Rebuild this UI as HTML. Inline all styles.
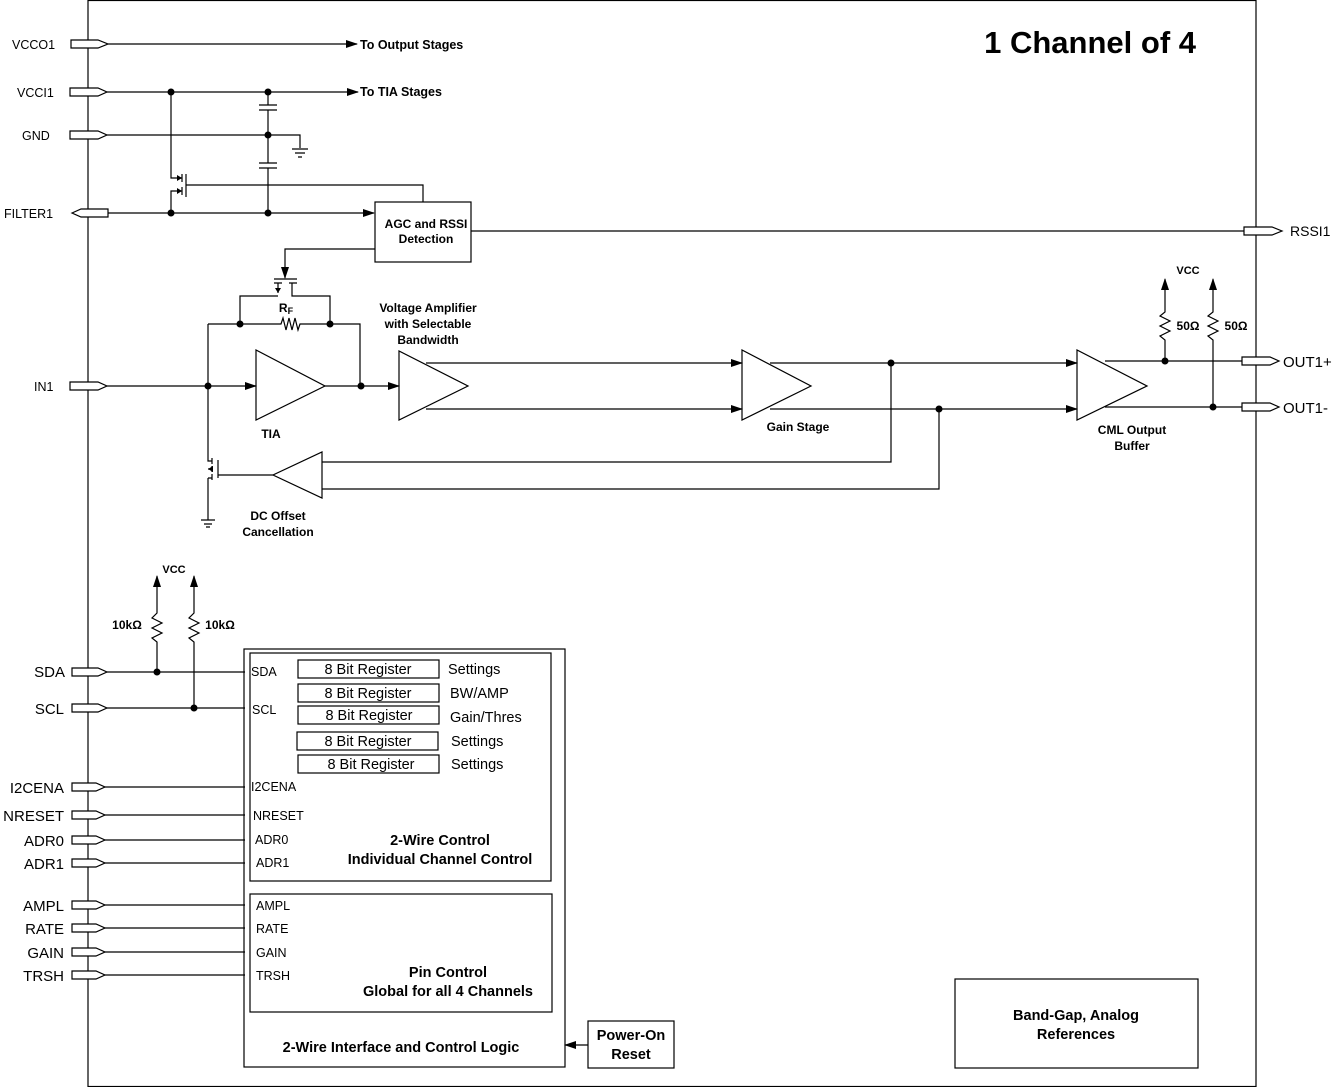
<!DOCTYPE html>
<html><head><meta charset="utf-8"><style>
body{margin:0;background:#fff}
svg{display:block;font-family:"Liberation Sans",sans-serif}
.b{font-weight:bold}
</style></head><body>
<svg width="1337" height="1087" viewBox="0 0 1337 1087" xmlns="http://www.w3.org/2000/svg">
<defs>
<marker id="a" markerWidth="12" markerHeight="8" refX="11" refY="4" orient="auto" markerUnits="userSpaceOnUse"><path d="M0,0L12,4L0,8z" fill="#000"/></marker>
</defs>
<g stroke="#000" stroke-width="1.2" fill="none">
<rect x="88" y="0.5" width="1168" height="1086"/>
<g fill="#fff">
<path d="M71,40H98L108,44L98,48H71Z"/>
<path d="M70,88H98L107,92L98,96H70Z"/>
<path d="M70,131H98L107,135L98,139H70Z"/>
<path d="M72,213L81,209H108V217H81Z"/>
<path d="M70,382H98L107,386L98,390H70Z"/>
<path d="M1244,227H1272L1282,231L1272,235H1244Z"/>
<path d="M1242,357H1270L1279,361L1270,365H1242Z"/>
<path d="M1242,403H1270L1279,407L1270,411H1242Z"/>
<path d="M72,668H98L107,672L98,676H72Z"/>
<path d="M72,704H98L107,708L98,712H72Z"/>
<path d="M72,783H96L105,787L96,791H72Z"/>
<path d="M72,811H96L105,815L96,819H72Z"/>
<path d="M72,836H96L105,840L96,844H72Z"/>
<path d="M72,859H96L105,863L96,867H72Z"/>
<path d="M72,901H96L105,905L96,909H72Z"/>
<path d="M72,924H96L105,928L96,932H72Z"/>
<path d="M72,948H96L105,952L96,956H72Z"/>
<path d="M72,971H96L105,975L96,979H72Z"/>
</g>
<path d="M108,44H357" marker-end="url(#a)"/>
<path d="M107,92H358" marker-end="url(#a)"/>
<path d="M107,135H300V148M292,149H308M295,153H305M298,157H302"/>
<path d="M268,92V105M259,105H277M259,110H277M268,110V163M259,163H277M259,168H277M268,168V213"/>
<path d="M108,213H374" marker-end="url(#a)"/>
<path d="M171,92V178H182M171,213V191H182M182,174V182M182,187V195M186,174V197M186,185H423V202"/>
<rect x="375" y="202" width="96" height="60"/>
<path d="M471,231H1244"/>
<path d="M375,249H285V278" marker-end="url(#a)"/>
<path d="M274,279H297M274,283H282M289,283H297M278,283V293M292,283V296H330V324M278,296H240V324"/>
<path d="M208,324H281L283,318L286,330L289,318L292,330L295,318L298,330L300,324H360V386"/>
<path d="M107,386H256" marker-end="url(#a)"/>
<path d="M256,350V420L325,386Z"/>
<path d="M325,386H399" marker-end="url(#a)"/>
<path d="M399,351V420L468,386Z"/>
<path d="M426,363H742" marker-end="url(#a)"/>
<path d="M426,409H742" marker-end="url(#a)"/>
<path d="M742,350V420L811,386Z"/>
<path d="M770,363H1077" marker-end="url(#a)"/>
<path d="M770,409H1077" marker-end="url(#a)"/>
<path d="M1077,350V420L1147,386Z"/>
<path d="M1105,361H1242M1105,407H1242"/>
<path d="M891,363V462H322M939,409V489H322"/>
<path d="M322,452V498L273,475Z"/>
<path d="M273,475H218M218,460V478M212,458V464M212,466V472M212,474V480M208,324V461H212M208,478H212M208,469H212M208,478V520M201,520H215M204,524H212M206,527H210"/>
<path d="M1165,361V340L1160,336L1170,331L1160,326L1170,321L1160,316L1165,312V279" marker-end="url(#a)"/>
<path d="M1213,407V340L1208,336L1218,331L1208,326L1218,321L1208,316L1213,312V279" marker-end="url(#a)"/>
<path d="M157,672V642L152,638L162,633L152,628L162,623L152,618L157,613V576" marker-end="url(#a)"/>
<path d="M194,708V642L189,638L199,633L189,628L199,623L189,618L194,613V576" marker-end="url(#a)"/>
<path d="M107,672H245M107,708H245M105,787H245M105,815H245M105,840H245M105,863H245M105,905H245M105,928H245M105,952H245M105,975H245"/>
<rect x="244" y="649" width="321" height="418"/>
<rect x="250" y="653" width="301" height="228"/>
<rect x="250" y="894" width="302" height="118"/>
<rect x="298" y="660" width="141" height="18"/>
<rect x="298" y="684" width="141" height="18"/>
<rect x="298" y="706" width="141" height="18"/>
<rect x="297" y="732" width="141" height="18"/>
<rect x="298" y="755" width="141" height="18"/>
<rect x="588" y="1021" width="86" height="47"/>
<path d="M588,1045H565" marker-end="url(#a)"/>
<rect x="955" y="979" width="243" height="89"/>
</g>
<g fill="#000">
<circle cx="171" cy="92" r="3.5"/><circle cx="268" cy="92" r="3.5"/><circle cx="268" cy="135" r="3.5"/>
<circle cx="171" cy="213" r="3.5"/><circle cx="268" cy="213" r="3.5"/>
<circle cx="240" cy="324" r="3.5"/><circle cx="330" cy="324" r="3.5"/>
<circle cx="208" cy="386" r="3.5"/><circle cx="361" cy="386" r="3.5"/>
<circle cx="891" cy="363" r="3.5"/><circle cx="939" cy="409" r="3.5"/>
<circle cx="1165" cy="361" r="3.5"/><circle cx="1213" cy="407" r="3.5"/>
<circle cx="157" cy="672" r="3.5"/><circle cx="194" cy="708" r="3.5"/>
<path d="M182,178L177,175V181Z M182,191L177,188V194Z M278,293L275,288H281Z M208,469L213,466V472Z"/>
</g>
<g font-size="12.5">
<text x="12" y="49">VCCO1</text>
<text x="17" y="97">VCCI1</text>
<text x="22" y="140">GND</text>
<text x="4" y="218">FILTER1</text>
<text x="34" y="391">IN1</text>
<text x="1290" y="236" font-size="14">RSSI1</text>
<text x="1283" y="367" font-size="15">OUT1+</text>
<text x="1283" y="413" font-size="15">OUT1-</text>
</g>
<g font-size="15" text-anchor="end">
<text x="65" y="677">SDA</text><text x="64" y="714">SCL</text>
<text x="64" y="793">I2CENA</text><text x="64" y="821">NRESET</text>
<text x="64" y="846">ADR0</text><text x="64" y="869">ADR1</text>
<text x="64" y="911">AMPL</text><text x="64" y="934">RATE</text>
<text x="64" y="958">GAIN</text><text x="64" y="981">TRSH</text>
</g>
<g font-size="12.5">
<text x="251" y="676">SDA</text><text x="252" y="714">SCL</text>
<text x="251" y="791">I2CENA</text><text x="253" y="820">NRESET</text>
<text x="255" y="844">ADR0</text><text x="256" y="867">ADR1</text>
<text x="256" y="910">AMPL</text><text x="256" y="933">RATE</text>
<text x="256" y="957">GAIN</text><text x="256" y="980">TRSH</text>
</g>
<g font-size="14.5">
<text x="368" y="674" text-anchor="middle">8 Bit Register</text>
<text x="368" y="698" text-anchor="middle">8 Bit Register</text>
<text x="369" y="720" text-anchor="middle">8 Bit Register</text>
<text x="368" y="746" text-anchor="middle">8 Bit Register</text>
<text x="371" y="769" text-anchor="middle">8 Bit Register</text>
<text x="448" y="674">Settings</text><text x="450" y="698">BW/AMP</text>
<text x="450" y="722">Gain/Thres</text><text x="451" y="746">Settings</text>
<text x="451" y="769">Settings</text>
</g>
<g class="b" font-size="12.5">
<text x="360" y="49">To Output Stages</text>
<text x="360" y="96">To TIA Stages</text>
</g>
<g class="b" font-size="12" text-anchor="middle">
<text x="426" y="228">AGC and RSSI</text><text x="426" y="243">Detection</text>
<text x="428" y="312">Voltage Amplifier</text><text x="428" y="328">with Selectable</text><text x="428" y="344">Bandwidth</text>
<text x="271" y="438">TIA</text>
<text x="798" y="431">Gain Stage</text>
<text x="1132" y="434">CML Output</text><text x="1132" y="450">Buffer</text>
<text x="278" y="520">DC Offset</text><text x="278" y="536">Cancellation</text>
<text x="1188" y="274" font-size="11">VCC</text>
<text x="1188" y="330">50Ω</text><text x="1236" y="330">50Ω</text>
<text x="174" y="573" font-size="11">VCC</text>
<text x="127" y="629">10kΩ</text><text x="220" y="629">10kΩ</text>
<text x="286" y="312">R<tspan font-size="9" dy="2">F</tspan></text>
</g>
<g class="b" font-size="14.5" text-anchor="middle">
<text x="440" y="845">2-Wire Control</text><text x="440" y="864">Individual Channel Control</text>
<text x="448" y="977">Pin Control</text><text x="448" y="996">Global for all 4 Channels</text>
<text x="401" y="1052">2-Wire Interface and Control Logic</text>
<text x="631" y="1040">Power-On</text><text x="631" y="1059">Reset</text>
<text x="1076" y="1020">Band-Gap, Analog</text><text x="1076" y="1039">References</text>
</g>
<text x="1196" y="53" class="b" font-size="31" text-anchor="end">1 Channel of 4</text>
</svg>
</body></html>
